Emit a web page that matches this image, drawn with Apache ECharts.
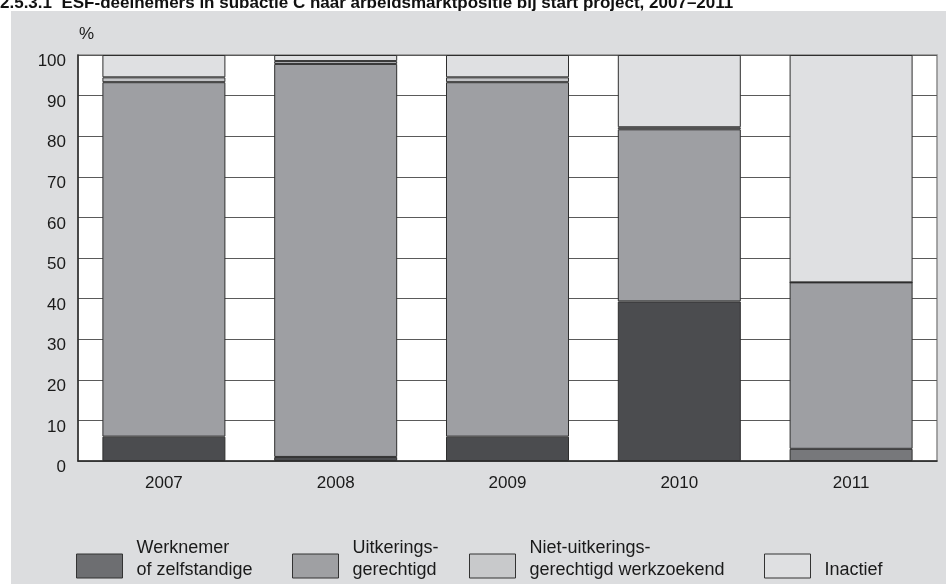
<!DOCTYPE html>
<html>
<head>
<meta charset="utf-8">
<script src="https://cdn.jsdelivr.net/npm/echarts@6/dist/echarts.min.js"></script>
<style>
  html, body { margin: 0; padding: 0; background: #fff; }
  #chart { width: 946px; height: 584px; }
</style>
</head>
<body>
<div id="chart"></div>
<script>
// categorieen en waarden (%)
var jaren = ['2007', '2008', '2009', '2010', '2011'];
var werknemer = [6, 1, 6, 39.3, 3];
var uitkering = [87.3, 96.8, 87.3, 42.4, 41];
var nietUitkering = [1.2, 0.7, 1.2, 0.5, 0];
var inactief = [5.5, 1.5, 5.5, 17.8, 56];
var reeksNamen = ['Werknemer\nof zelfstandige', 'Uitkerings-\ngerechtigd', 'Niet-uitkerings-\ngerechtigd werkzoekend', '\nInactief'];

var font = '"Liberation Sans", Arial, Helvetica, sans-serif';
var kleuren = ['#4b4c4f', '#9e9fa3', '#c2c3c6', '#dfe0e2'];
var legendaKleuren = ['#6d6e71', '#9fa0a3', '#c8c9cb', '#dfe0e2'];
var legendaLinks = [76, 292, 469, 764];

var myChart = echarts.init(document.getElementById('chart'));

function reeks(naam, data, kleur) {
  return {
    name: naam,
    type: 'bar',
    stack: 'totaal',
    barWidth: 123,
    data: data,
    itemStyle: { color: kleur, borderColor: '#2e2e2e', borderWidth: 1 },
    emphasis: { disabled: true }
  };
}

myChart.setOption({
  backgroundColor: '#fff',
  animation: false,
  graphic: [
    {
      type: 'rect', left: 11, top: 11, z: -10,
      shape: { width: 935, height: 573 },
      style: { fill: '#dcdddf' }
    },
    {
      type: 'text', left: 0, top: -5,
      style: {
        text: '2.5.3.1  ESF-deelnemers in subactie C naar arbeidsmarktpositie bij start project, 2007–2011',
        font: 'bold 17px ' + font, fill: '#111'
      }
    },
    {
      type: 'text', left: 79, top: 26,
      style: { text: '%', font: '17px ' + font, fill: '#1a1a1a' }
    }
  ],
  legend: reeksNamen.map(function (n, i) {
    return {
      data: [{ name: n, itemStyle: { color: legendaKleuren[i] } }],
      left: legendaLinks[i],
      top: 537,
      icon: 'rect',
      itemWidth: 46,
      itemHeight: 24,
      selectedMode: false,
      padding: 0,
      itemStyle: { borderColor: '#333', borderWidth: 1 },
      // lege regel onderaan schuift de tekst omhoog t.o.v. het vakje
      formatter: function (name) { return name + '\n{s| }'; },
      textStyle: {
        fontFamily: font, fontSize: 18, color: '#1a1a1a',
        lineHeight: 22, padding: [0, 0, 0, 9],
        rich: { s: { fontSize: 1, lineHeight: 14 } }
      }
    };
  }),
  grid: {
    left: 78, right: 9, top: 55, bottom: 123,
    show: true, backgroundColor: '#fff',
    borderColor: '#8c8c8c', borderWidth: 1.5
  },
  xAxis: {
    type: 'category',
    data: jaren,
    axisTick: { show: false },
    axisLine: { lineStyle: { color: '#2a2a2a', width: 1.5 } },
    axisLabel: { fontFamily: font, fontSize: 17, color: '#1a1a1a', margin: 14 }
  },
  yAxis: {
    type: 'value',
    min: 0, max: 100, interval: 10,
    axisLine: { show: true, lineStyle: { color: '#2a2a2a', width: 1.5 } },
    axisTick: { show: false },
    axisLabel: {
      fontFamily: font, fontSize: 17, color: '#1a1a1a', margin: 12,
      verticalAlign: 'top', lineHeight: 13
    },
    splitLine: { lineStyle: { color: '#5a5a5a', width: 1.2 } }
  },
  series: [
    reeks(reeksNamen[0], werknemer.map(function (v, i) {
      return i === 4 ? { value: v, itemStyle: { color: '#77787b' } } : v;
    }), kleuren[0]),
    reeks(reeksNamen[1], uitkering, kleuren[1]),
    reeks(reeksNamen[2], nietUitkering, kleuren[2]),
    reeks(reeksNamen[3], inactief, kleuren[3])
  ]
});
</script>
</body>
</html>
